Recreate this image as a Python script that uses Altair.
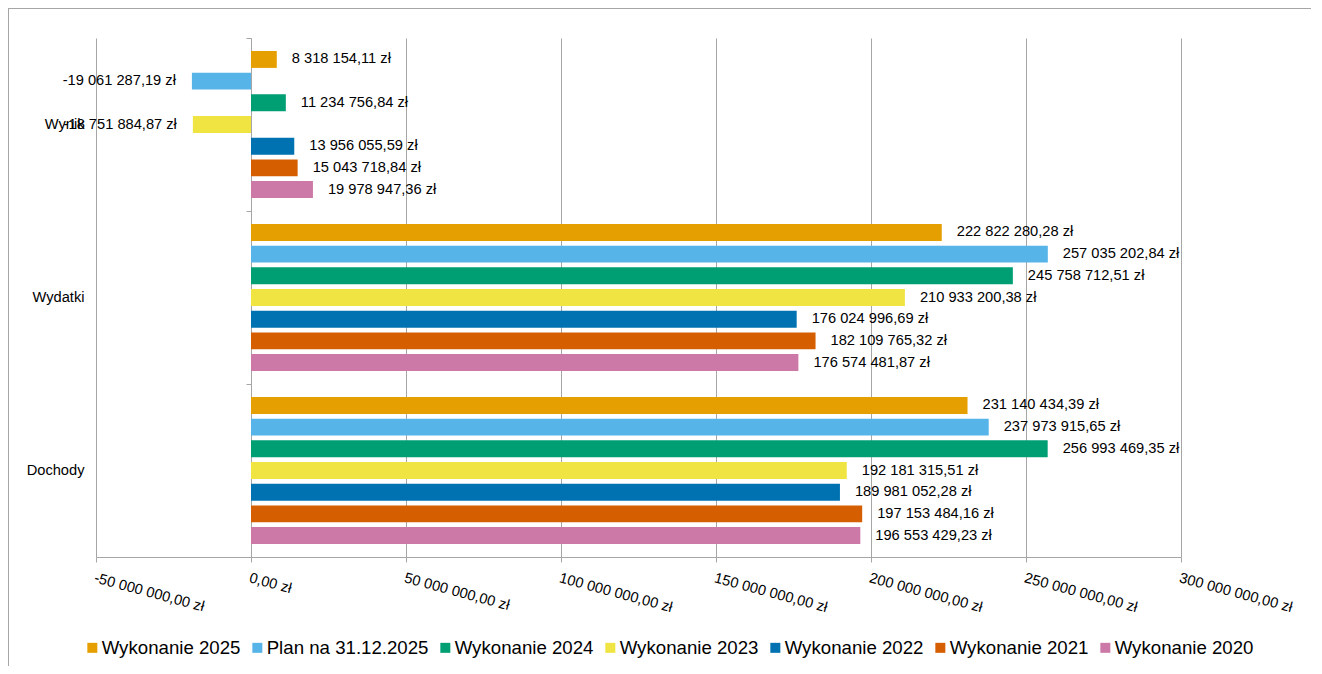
import altair as alt
import pandas as pd

categories = ["Wynik", "Wydatki", "Dochody"]
series = ["Wykonanie 2025", "Plan na 31.12.2025", "Wykonanie 2024", "Wykonanie 2023",
          "Wykonanie 2022", "Wykonanie 2021", "Wykonanie 2020"]
colors = ["#E69F00", "#56B4E9", "#009E73", "#F0E442", "#0072B2", "#D55E00", "#CC79A7"]

wynik = [8318154.11, -19061287.19, 11234756.84, -18751884.87, 13956055.59, 15043718.84, 19978947.36]
wydatki = [222822280.28, 257035202.84, 245758712.51, 210933200.38, 176024996.69, 182109765.32, 176574481.87]
dochody = [231140434.39, 237973915.65, 256993469.35, 192181315.51, 189981052.28, 197153484.16, 196553429.23]

x_ticks = [-50000000, 0, 50000000, 100000000, 150000000, 200000000, 250000000, 300000000]

rows = []
for cat, vals in zip(categories, [wynik, wydatki, dochody]):
    for s, v in zip(series, vals):
        rows.append({"kategoria": cat, "seria": s, "wartosc": v})
df = pd.DataFrame(rows)

FONT = "Liberation Sans"
GRID = "#a6a6a6"
FS = 14.67

y_main = alt.Y("kategoria:N", sort=categories,
               scale=alt.Scale(paddingInner=0, paddingOuter=0),
               axis=alt.Axis(title=None, domain=False, ticks=False, labelPadding=12,
                             labelFontSize=FS, labelColor="#000", labelFont=FONT, orient="left"))
yoff = alt.YOffset("seria:N", sort=series, scale=alt.Scale(paddingInner=0.22, paddingOuter=0.6))
x_enc = alt.X("wartosc:Q", scale=alt.Scale(domain=[-50000000, 300000000], nice=False),
              axis=alt.Axis(title=None, values=x_ticks, format="$,.2f", labelAngle=15,
                            labelAlign="left", labelBaseline="top", labelPadding=8,
                            labelFontSize=FS, labelFont=FONT, labelColor="#000",
                            grid=True, gridColor=GRID, domainColor=GRID, tickColor=GRID,
                            tickSize=5, labelOverlap=False, labelBound=False))
color = alt.Color("seria:N", sort=series, scale=alt.Scale(domain=series, range=colors),
                  legend=alt.Legend(title=None, orient="none", legendX=-13, legendY=600,
                                    direction="horizontal", columns=7, symbolType="square",
                                    symbolSize=100, symbolStrokeWidth=0, labelFontSize=18.67,
                                    labelFont=FONT, labelColor="#000", labelOffset=0,
                                    labelLimit=0, columnPadding=7, padding=0))

base = alt.Chart(df)

bars = base.mark_bar().encode(x=x_enc, y=y_main, yOffset=yoff, color=color)

y_plain = alt.Y("kategoria:N", sort=categories, axis=None)
yoff_plain = alt.YOffset("seria:N", sort=series)

pos_text = base.transform_filter("datum.wartosc >= 0").mark_text(
    align="left", dx=15, baseline="middle", fontSize=FS, font=FONT, color="#000"
).encode(x="wartosc:Q", y=y_plain, yOffset=yoff_plain,
         text=alt.Text("wartosc:Q", format="$,.2f"))

neg_text = base.transform_filter("datum.wartosc < 0").mark_text(
    align="right", dx=-16, baseline="middle", fontSize=FS, font=FONT, color="#000"
).encode(x="wartosc:Q", y=y_plain, yOffset=yoff_plain,
         text=alt.Text("wartosc:Q", format="$,.2f"))

zero_axis = base.mark_point(opacity=0).encode(
    y=alt.Y("kategoria:N", sort=categories,
            axis=alt.Axis(orient="left", offset=-155, labels=False, ticks=True,
                          tickBand="extent", tickSize=5, domain=True, domainColor=GRID,
                          tickColor=GRID, title=None, grid=False))
)

frame_top = alt.Chart(alt.Data(values=[{"f": 1}])).mark_rule(
    stroke=GRID, strokeWidth=1
).encode(x=alt.value(-88), x2=alt.value(1218), y=alt.value(-29.5))
frame_left = alt.Chart(alt.Data(values=[{"f": 1}])).mark_rule(
    stroke=GRID, strokeWidth=1
).encode(x=alt.value(-87.5), y=alt.value(-30), y2=alt.value(628))

chart = alt.layer(frame_top, frame_left, bars, pos_text, neg_text, zero_axis).resolve_axis(
    y="independent"
).properties(
    width=1085, height=519,
    autosize=alt.AutoSizeParams(type="none"),
    padding={"left": 88, "top": 30, "right": 130, "bottom": 109},
).configure(
    locale={"number": {"decimal": ",", "thousands": " ", "grouping": [3],
                       "currency": ["", " zł"], "minus": "-"}}
).configure_view(strokeOpacity=0)

chart.save("out.html", embed_options={"renderer": "svg", "actions": False})
